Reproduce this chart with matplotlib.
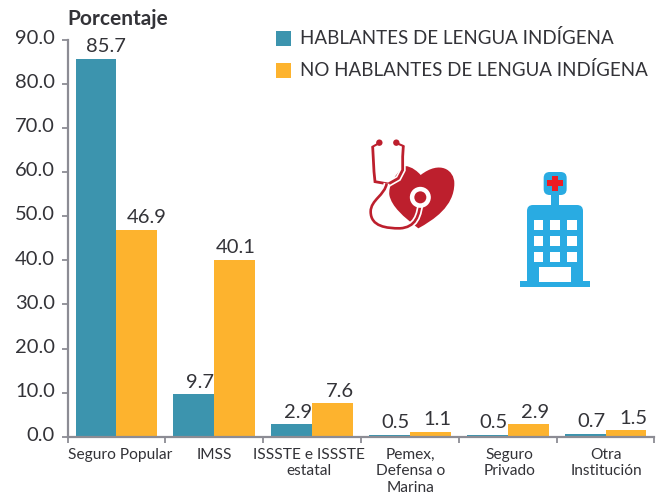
import matplotlib
matplotlib.use('Agg')
import matplotlib.pyplot as plt
from matplotlib.patches import PathPatch, Rectangle, FancyBboxPatch, Circle
from matplotlib.path import Path
from matplotlib.transforms import ScaledTranslation
import numpy as np

plt.rcParams['font.family'] = ['Lato', 'DejaVu Sans']

categories = ['Seguro Popular', 'IMSS', 'ISSSTE e ISSSTE\nestatal', 'Pemex,\nDefensa o\nMarina',
              'Seguro\nPrivado', 'Otra\nInstitución']
hablantes = [85.7, 9.7, 2.9, 0.5, 0.5, 0.7]
no_hablantes = [46.9, 40.1, 7.6, 1.1, 2.9, 1.5]
yticks = [0, 10, 20, 30, 40, 50, 60, 70, 80, 90]

TEAL = '#3c94ae'
ORANGE = '#fdb32e'
TEXT = '#333338'
AXIS = '#8c8c94'
RED = '#bd1f2d'
BLUE = '#29abe2'

W, H = 661, 494
fig = plt.figure(figsize=(W / 100, H / 100), dpi=100)

# axes box in pixels
ax = fig.add_axes([67.5 / W, 1 - 436.8 / H, (654.5 - 67.5) / W, (436.8 - 39.8) / H])
x = np.arange(len(categories))
bw = 0.418
ax.bar(x - bw / 2, hablantes, bw, color=TEAL, edgecolor='none')
ax.bar(x + bw / 2, no_hablantes, bw, color=ORANGE, edgecolor='none')
ax.set_xlim(-0.5, 5.5)
ax.set_ylim(0, 90)

# the value labels sit off centre in the original, shifts in points
shift_a = [7, 4.5, 4.5, 4.5, 4.5, 4.5]
shift_b = [7, 1, 5, 5, 5, 5]
for i, (a, b) in enumerate(zip(hablantes, no_hablantes)):
    ax.annotate(f'{a:.1f}', (i - bw / 2, a), xytext=(shift_a[i], 2.5), textcoords='offset points',
                ha='center', va='bottom', fontsize=14.5, color=TEXT)
    ax.annotate(f'{b:.1f}', (i + bw / 2, b), xytext=(shift_b[i], 2.5), textcoords='offset points',
                ha='center', va='bottom', fontsize=14.5, color=TEXT)

for s in ['top', 'right']:
    ax.spines[s].set_visible(False)
for s in ['left', 'bottom']:
    ax.spines[s].set_color(AXIS)
    ax.spines[s].set_linewidth(1.6)

ax.set_yticks(yticks)
ax.set_yticklabels([f'{v:.1f}' for v in yticks], fontsize=14.5, color=TEXT)
ax.tick_params(axis='y', length=4, width=1.3, color=AXIS, pad=5)
lift = ScaledTranslation(0, 2 / 72, fig.dpi_scale_trans)
for lab in ax.get_yticklabels():
    lab.set_transform(lab.get_transform() + lift)
ax.set_xticks(np.arange(-0.5, 5.6, 1))
ax.set_xticklabels([])
ax.tick_params(axis='x', length=4, width=1.3, color=AXIS)
shift_c = [3, 0, -2.5, 0.5, 1.5, 0.5]
for i, c in enumerate(categories):
    ax.annotate(c, (i, 0), xytext=(shift_c[i], -8), textcoords='offset points', ha='center', va='top',
                fontsize=11.2, color=TEXT, linespacing=1.22, annotation_clip=False)

# overlay in picture pixels for title, legend and icons
ov = fig.add_axes([0, 0, 1, 1], facecolor='none')
ov.set_xlim(0, W)
ov.set_ylim(H, 0)
ov.axis('off')

ov.text(67, 19, 'Porcentaje', fontsize=15, fontweight='bold', color=TEXT, ha='left', va='center')
ov.add_patch(Rectangle((276, 31), 15, 15, color=TEAL, lw=0))
ov.add_patch(Rectangle((276, 63), 15, 15, color=ORANGE, lw=0))
ov.text(300, 37.5, 'HABLANTES DE LENGUA INDÍGENA', fontsize=13.5, color=TEXT, va='center')
ov.text(300, 69.5, 'NO HABLANTES DE LENGUA INDÍGENA', fontsize=13.5, color=TEXT, va='center')


# icons were measured on a 3x crop starting at (350, 120)
def zx(v):
    return 350 + v / 3


def zy(v):
    return 120 + v / 3


def zp(pts):
    return [(zx(a), zy(b)) for a, b in pts]


def zrect(x0, y0, x1, y1, color):
    ov.add_patch(Rectangle((zx(x0), zy(y0)), (x1 - x0) / 3, (y1 - y0) / 3, color=color, lw=0))


# hospital
zrect(511, 483, 719, 500, BLUE)
ov.add_patch(FancyBboxPatch((zx(531), zy(255)), (699 - 531) / 3, (490 - 255) / 3,
                            boxstyle='round,pad=0,rounding_size=6', lw=0, color=BLUE))
zrect(531, 300, 699, 490, BLUE)
zrect(603, 220, 627, 258, BLUE)
ov.add_patch(FancyBboxPatch((zx(581), zy(156)), (650 - 581) / 3, (225 - 156) / 3,
                            boxstyle='round,pad=0,rounding_size=6', lw=0, color=BLUE))
for wx in [551, 601, 651]:
    for wy in [300, 347, 395]:
        zrect(wx, wy, wx + 29, wy + 30, 'white')
zrect(568, 441, 662, 485, 'white')
zrect(591, 181, 639, 199, '#ed1c24')
zrect(606, 167, 624, 213, '#ed1c24')

# heart
heart = [(212, 165), (190, 140), (165, 135), (160, 140), (130, 170), (115, 200), (118, 225),
         (125, 260), (160, 290), (205, 325), (250, 300), (313, 260), (313, 190),
         (313, 150), (270, 120), (212, 165)]
codes = [Path.MOVETO] + [Path.CURVE4] * 15
ov.add_patch(PathPatch(Path(zp(heart), codes), color=RED, lw=0))

# stethoscope, white halo under the red tube
ear = [(68, 80), (72, 155), (75, 185), (115, 192), (145, 175), (158, 150), (158, 110), (160, 78)]
tube = [(110, 190), (105, 225), (62, 240), (62, 275), (62, 320), (110, 325), (150, 325),
        (195, 322), (210, 290), (212, 235)]
for pts, lw_h, lw_r in [(ear, 4.4, 2.0), (tube, 4.4, 1.9)]:
    c = [Path.MOVETO] + [Path.CURVE4] * (len(pts) - 1)
    if len(pts) % 3 != 1:
        c = [Path.MOVETO] + [Path.LINETO] * (len(pts) - 1)
    sm = Path(zp(pts), c)
    ov.add_patch(PathPatch(sm, fc='none', ec='white', lw=lw_h))
    ov.add_patch(PathPatch(sm, fc='none', ec=RED, lw=lw_r))
ov.plot(*zip(*zp([(68, 80), (88, 69)])), color=RED, lw=1.5)
ov.plot(*zip(*zp([(160, 78), (139, 69)])), color=RED, lw=1.5)
ov.add_patch(Circle((zx(88), zy(68)), 3.2, color=RED, lw=0))
ov.add_patch(Circle((zx(139), zy(68)), 3.2, color=RED, lw=0))
ov.add_patch(Circle((zx(211), zy(232)), 10.5, color='white', lw=0))
ov.add_patch(Circle((zx(211), zy(232)), 6, color=RED, lw=0))

fig.savefig('out.png', dpi=100)
